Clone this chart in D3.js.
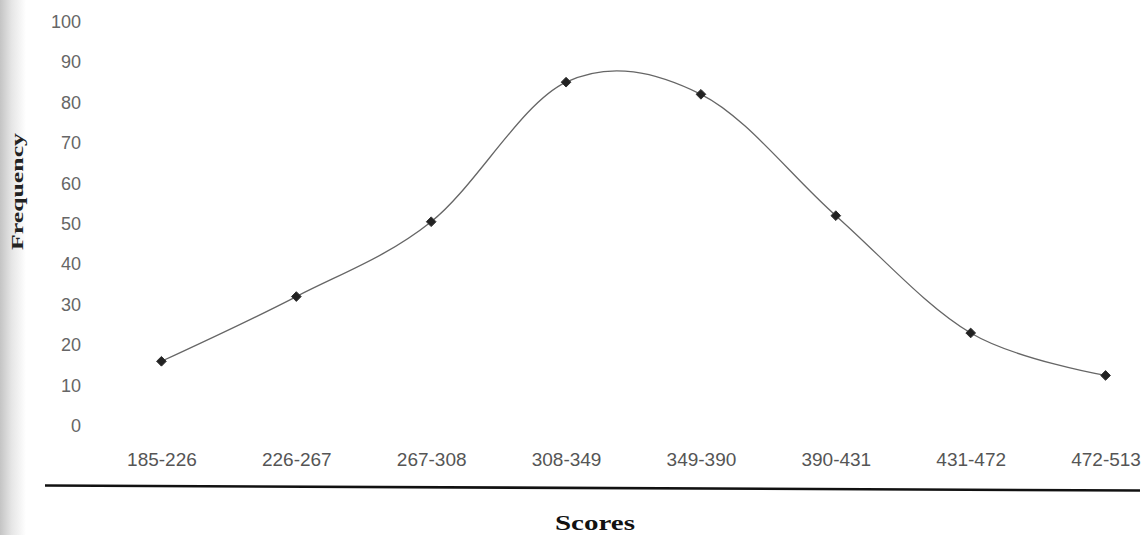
<!DOCTYPE html>
<html lang="en">
<head>
  <meta charset="UTF-8">
  <title>Frequency of Scores</title>
  <style>
    body { margin: 0; background: #fff; }
  </style>
  <script src="https://d3js.org/d3.v7.min.js"></script>
</head>
<body>
  <div id="chart"></div>
  <script>
    const scoreBands = ["185-226", "226-267", "267-308", "308-349", "349-390", "390-431", "431-472", "472-513"];
    const frequencies = [16, 32, 50.5, 85, 82, 52, 23, 12.5];
    const yTicks = [0, 10, 20, 30, 40, 50, 60, 70, 80, 90, 100];

    const width = 1147, height = 535;

    const x = d3.scalePoint()
        .domain(scoreBands)
        .range([94, 1173])
        .padding(0.5);

    const y = d3.scaleLinear()
        .domain([0, 100])
        .range([426, 21.5]);

    const svg = d3.create("svg")
        .attr("width", width)
        .attr("height", height)
        .attr("viewBox", [0, 0, width, height]);

    // scanned page edge shading on the left
    const grad = svg.append("defs").append("linearGradient")
        .attr("id", "edge")
        .attr("x1", 0).attr("x2", 1);
    grad.append("stop").attr("offset", 0).attr("stop-color", "#c4c4c4");
    grad.append("stop").attr("offset", 0.45).attr("stop-color", "#e6e6e6");
    grad.append("stop").attr("offset", 1).attr("stop-color", "#fff");
    svg.append("rect")
        .attr("x", 0).attr("y", 0)
        .attr("width", 26).attr("height", height)
        .attr("fill", "url(#edge)");

    // y axis (labels only)
    const yAxis = svg.append("g")
        .attr("transform", "translate(81,0)")
        .call(d3.axisLeft(y).tickValues(yTicks).tickSize(0).tickPadding(0));
    yAxis.select(".domain").remove();
    yAxis.selectAll("text")
        .attr("font-family", "Liberation Sans, Arial, sans-serif")
        .attr("font-size", 18)
        .attr("fill", "#666");

    // x axis (labels only)
    const xAxis = svg.append("g")
        .attr("transform", "translate(0,452)")
        .call(d3.axisBottom(x).tickSize(0).tickPadding(0));
    xAxis.select(".domain").remove();
    xAxis.selectAll("text")
        .attr("font-family", "Liberation Sans, Arial, sans-serif")
        .attr("font-size", 19)
        .attr("fill", "#555");

    // rule under the category labels
    svg.append("line")
        .attr("x1", 45).attr("y1", 485.5)
        .attr("x2", 1140).attr("y2", 490.5)
        .attr("stroke", "#111")
        .attr("stroke-width", 2.6);

    // smoothed line
    const line = d3.line()
        .x((d, i) => x(scoreBands[i]))
        .y(d => y(d))
        .curve(d3.curveCardinal.tension(0));

    svg.append("path")
        .datum(frequencies)
        .attr("d", line)
        .attr("fill", "none")
        .attr("stroke", "#666")
        .attr("stroke-width", 1.3);

    // diamond markers
    const diamond = d3.symbol().type(d3.symbolDiamond2).size(60);
    svg.append("g")
      .selectAll("path")
      .data(frequencies)
      .join("path")
        .attr("d", diamond)
        .attr("transform", (d, i) => `translate(${x(scoreBands[i])},${y(d)})`)
        .attr("fill", "#222")
        .attr("stroke", "#333")
        .attr("stroke-width", 1)
        .attr("stroke-linejoin", "round");

    // axis titles
    svg.append("text")
        .attr("transform", "translate(23,191.5) rotate(-90)")
        .attr("text-anchor", "middle")
        .attr("font-family", "Liberation Serif, Times New Roman, serif")
        .attr("font-weight", "bold")
        .attr("font-size", 17)
        .attr("textLength", 117)
        .attr("lengthAdjust", "spacingAndGlyphs")
        .attr("fill", "#222")
        .text("Frequency");

    svg.append("text")
        .attr("x", 595)
        .attr("y", 530)
        .attr("text-anchor", "middle")
        .attr("font-family", "Liberation Serif, Times New Roman, serif")
        .attr("font-weight", "bold")
        .attr("font-size", 20)
        .attr("textLength", 80)
        .attr("lengthAdjust", "spacingAndGlyphs")
        .attr("fill", "#111")
        .text("Scores");

    document.getElementById("chart").appendChild(svg.node());
  </script>
</body>
</html>
